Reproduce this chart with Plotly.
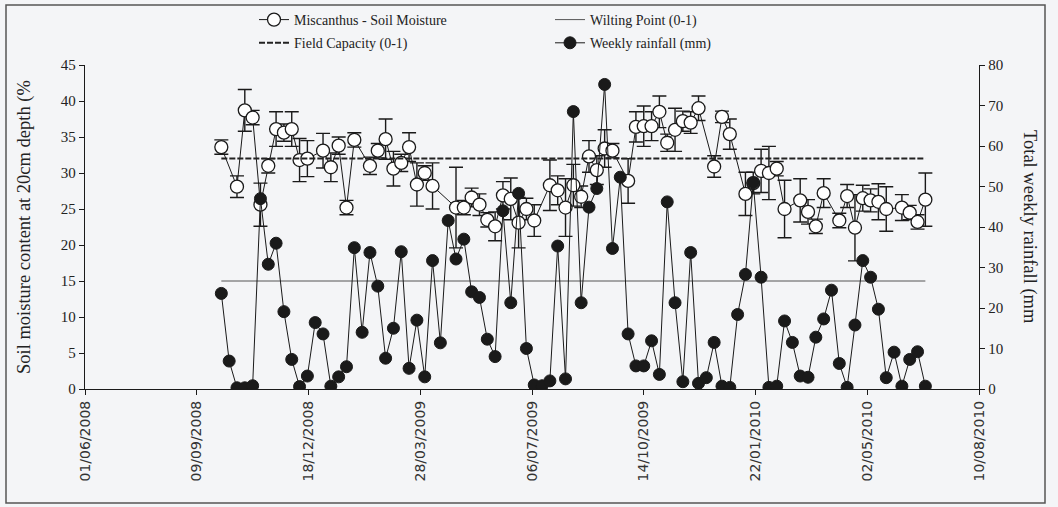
import pandas as pd
import plotly.graph_objects as go

# Weekly sampling dates
week_dates = pd.date_range("2008-10-01", periods=91, freq="7D")

# Soil moisture (%) at 20 cm depth, Miscanthus plot; None = no reading that week
soil_moisture = [
    33.6, None, 28.1, 38.7, 37.7, 25.6, 31.0, 36.1, 35.6, 36.1,
    31.8, 32.0, None, 33.1, 30.8, 33.8, 25.2, 34.6, None, 31.0,
    33.1, 34.7, 30.6, 31.4, 33.6, 28.4, 30.0, 28.2, None, None,
    25.2, 25.2, 26.6, 25.6, 23.5, 22.6, 26.9, 26.4, 23.1, 25.0,
    23.4, None, 28.3, 27.6, 25.2, 28.3, 26.7, 32.3, 30.4, 33.4,
    33.1, None, 28.9, 36.4, 36.5, 36.5, 38.5, 34.2, 36.0, 37.2,
    37.0, 39.0, None, 30.9, 37.8, 35.4, None, 27.1, 28.6, 30.3,
    30.0, 30.6, 25.0, None, 26.2, 24.6, 22.6, 27.2, None, 23.4,
    26.8, 22.4, 26.5, 26.2, 26.0, 25.0, None, 25.2, 24.5, 23.2,
    26.3,
]
soil_error = [
    1.0, None, 1.5, 2.9, 1.0, 3.0, 1.0, 2.4, 1.2, 2.4,
    3.0, 2.5, None, 2.4, 2.0, 1.2, 1.0, 1.0, None, 1.2,
    1.0, 2.8, 2.4, 1.2, 2.0, 3.0, 1.0, 3.2, None, None,
    5.6, 1.0, 1.3, 1.5, 1.0, 2.0, 1.9, 2.9, 3.5, 1.5,
    2.2, None, 3.5, 2.0, 4.0, 2.9, 1.5, 2.2, 2.0, 2.6,
    1.0, None, 3.1, 2.1, 2.8, 2.0, 2.2, 1.2, 3.0, 1.4,
    1.5, 1.7, None, 1.5, 0.8, 2.1, None, 3.0, 1.5, 3.0,
    3.7, 1.0, 4.0, None, 3.0, 1.7, 1.0, 2.0, None, 1.0,
    1.6, 4.6, 1.8, 1.6, 2.5, 3.1, None, 1.8, 1.0, 1.0,
    3.7,
]

# Weekly rainfall (mm)
weekly_rainfall = [
    23.6, 6.9, 0.3, 0.3, 0.8, 47.0, 30.8, 36.0, 19.1, 7.3,
    0.6, 3.2, 16.4, 13.6, 0.7, 3.0, 5.5, 34.9, 14.0, 33.7,
    25.4, 7.6, 15.0, 33.9, 5.1, 17.0, 3.0, 31.7, 11.4, 41.6,
    32.1, 37.0, 24.0, 22.6, 12.3, 8.0, 44.0, 21.3, 48.3, 10.0,
    1.0, 0.8, 2.0, 35.3, 2.5, 68.5, 21.3, 44.9, 49.5, 75.2,
    34.7, 52.3, 13.6, 5.7, 5.7, 11.9, 3.6, 46.2, 21.3, 1.8,
    33.7, 1.4, 2.8, 11.5, 0.7, 0.4, 18.4, 28.3, 50.9, 27.6,
    0.4, 0.7, 16.8, 11.5, 3.2, 2.9, 12.8, 17.3, 24.4, 6.3,
    0.4, 15.8, 31.7, 27.6, 19.7, 2.8, 9.1, 0.7, 7.3, 9.2,
    0.7,
]

field_capacity = 32.0
wilting_point = 15.0

x_tick_start = "2008-06-01"
x_range = ["2008-06-01", "2010-08-10"]
tick_step_days = 100

left_title = "Soil moisture content at 20cm depth (%"
right_title = "Total weekly rainfall (mm"

soil_x = [d for d, v in zip(week_dates, soil_moisture) if v is not None]
soil_y = [v for v in soil_moisture if v is not None]
soil_e = [e for v, e in zip(soil_moisture, soil_error) if v is not None]

BG = "#f4f5f7"
INK = "#1a1a1a"
SERIF = "Liberation Serif"

fig = go.Figure()

fig.add_trace(go.Scatter(
    x=soil_x, y=soil_y, name="Miscanthus - Soil Moisture",
    mode="lines+markers", legend="legend", legendgroup="a",
    line=dict(color=INK, width=1),
    marker=dict(symbol="circle", size=13, color="white",
                line=dict(color=INK, width=1.3)),
    error_y=dict(type="data", array=soil_e, visible=True,
                 color=INK, thickness=1.4, width=7),
))

line_x = [week_dates[0], week_dates[-1]]

fig.add_trace(go.Scatter(
    x=line_x, y=[wilting_point, wilting_point], name="Wilting Point (0-1)",
    mode="lines", legend="legend2", legendgroup="b",
    line=dict(color="#555555", width=1),
))

fig.add_trace(go.Scatter(
    x=line_x, y=[field_capacity, field_capacity], name="Field Capacity (0-1)",
    mode="lines", legend="legend", legendgroup="c",
    line=dict(color="#222222", width=2, dash="6px,2px"),
))

fig.add_trace(go.Scatter(
    x=week_dates, y=weekly_rainfall, name="Weekly rainfall (mm)",
    mode="lines+markers", yaxis="y2", legend="legend2", legendgroup="d",
    line=dict(color=INK, width=1),
    marker=dict(symbol="circle", size=12, color=INK,
                line=dict(color=INK, width=1)),
))

# Plot area in pixels
L, R, T, B = 85, 979, 65, 389
W, H = 1058, 507


def px(xp):
    return (xp - L) / (R - L)


def py(yp):
    return (B - yp) / (B - T)


legend_style = dict(
    xref="container", yref="container", xanchor="left", yanchor="top",
    orientation="v", bgcolor="rgba(0,0,0,0)",
    font=dict(family=SERIF, size=14, color="#222"),
    tracegroupgap=2, itemwidth=30,
)

title_font = dict(family=SERIF, size=18.5, color="#222")

fig.update_layout(
    width=W, height=H,
    margin=dict(l=L, r=W - R, t=T, b=H - B, autoexpand=False),
    paper_bgcolor=BG, plot_bgcolor=BG,
    showlegend=True,
    legend=dict(x=254 / W, y=1 - 4 / H, **legend_style),
    legend2=dict(x=550 / W, y=1 - 4 / H, **legend_style),
    xaxis=dict(
        type="date", range=x_range, tick0=x_tick_start,
        dtick=tick_step_days * 86400000, tickformat="%d/%m/%Y",
        tickangle=-90, showgrid=False, zeroline=False,
        showline=True, linecolor=INK, linewidth=1.3,
        ticks="outside", ticklen=5, tickcolor=INK,
        tickfont=dict(family="DejaVu Sans", size=14, color="#333"),
    ),
    yaxis=dict(
        range=[0, 45], dtick=5, showgrid=False, zeroline=False,
        showline=True, linecolor=INK, linewidth=1.3,
        ticks="outside", ticklen=5, tickcolor=INK,
        tickfont=dict(family=SERIF, size=15, color="#222"),
    ),
    yaxis2=dict(
        range=[0, 80], dtick=10, overlaying="y", side="right",
        showgrid=False, zeroline=False,
        showline=True, linecolor=INK, linewidth=1.3,
        ticks="outside", ticklen=5, tickcolor=INK,
        tickfont=dict(family=SERIF, size=15, color="#222"),
    ),
    annotations=[
        dict(text=left_title, xref="paper", yref="paper",
             x=px(24), y=0.5, textangle=-90, showarrow=False,
             xanchor="center", yanchor="middle", font=title_font),
        dict(text=right_title, xref="paper", yref="paper",
             x=px(1030), y=0.5, textangle=90, showarrow=False,
             xanchor="center", yanchor="middle", font=title_font),
    ],
    shapes=[dict(
        type="rect", xref="paper", yref="paper",
        x0=px(6), x1=px(1045), y0=py(503), y1=py(5),
        line=dict(color="#555", width=1.5), fillcolor="rgba(0,0,0,0)",
        layer="below",
    )],
)

fig.write_html("out.html")
